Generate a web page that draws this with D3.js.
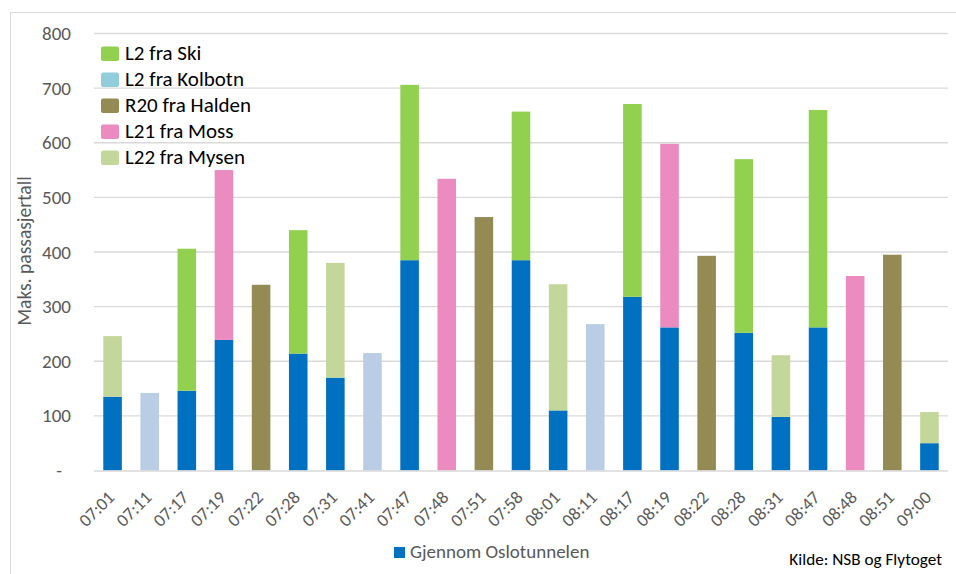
<!DOCTYPE html>
<html>
<head>
<meta charset="utf-8">
<script src="https://cdnjs.cloudflare.com/ajax/libs/d3/7.8.5/d3.min.js"></script>
<style>
  html, body { margin: 0; padding: 0; background: #fff; }
  svg { display: block; font-family: Carlito, Calibri, "Open Sans", sans-serif; }
</style>
</head>
<body>
<svg id="chart" width="956" height="574"></svg>
<script>
const categories = ["07:01","07:11","07:17","07:19","07:22","07:28","07:31","07:41","07:47","07:48","07:51","07:58","08:01","08:11","08:17","08:19","08:22","08:28","08:31","08:47","08:48","08:51","09:00"];
// Series values (passengers)
const oslotunnelen = [135, 0, 146, 239, 0, 214, 170, 0, 385, 0, 0, 385, 110, 0, 318, 262, 0, 252, 98, 262, 0, 0, 50];
const l2Ski        = [0, 0, 260, 0, 0, 226, 0, 0, 321, 0, 0, 272, 0, 0, 353, 0, 0, 318, 0, 398, 0, 0, 0];
const l2Kolbotn    = [0, 142, 0, 0, 0, 0, 0, 215, 0, 0, 0, 0, 0, 268, 0, 0, 0, 0, 0, 0, 0, 0, 0];
const r20Halden    = [0, 0, 0, 0, 340, 0, 0, 0, 0, 0, 464, 0, 0, 0, 0, 0, 393, 0, 0, 0, 0, 395, 0];
const l21Moss      = [0, 0, 0, 311, 0, 0, 0, 0, 0, 534, 0, 0, 0, 0, 0, 336, 0, 0, 0, 0, 356, 0, 0];
const l22Mysen     = [111, 0, 0, 0, 0, 0, 210, 0, 0, 0, 0, 0, 231, 0, 0, 0, 0, 0, 113, 0, 0, 0, 57];
const yTicks = [0, 100, 200, 300, 400, 500, 600, 700, 800];
const seriesNames = ["Gjennom Oslotunnelen", "L2 fra Ski", "L2 fra Kolbotn", "R20 fra Halden", "L21 fra Moss", "L22 fra Mysen"];
const topLegend = ["L2 fra Ski", "L2 fra Kolbotn", "R20 fra Halden", "L21 fra Moss", "L22 fra Mysen"];

const barColors = {
  "Gjennom Oslotunnelen": "#0070C0",
  "L2 fra Ski": "#92D050",
  "L2 fra Kolbotn": "#B9CDE5",
  "R20 fra Halden": "#948A54",
  "L21 fra Moss": "#EB8BC0",
  "L22 fra Mysen": "#C4D79B"
};
const legendColors = Object.assign({}, barColors, {"L2 fra Kolbotn": "#92CDDC"});

const seriesArrays = [oslotunnelen, l2Ski, l2Kolbotn, r20Halden, l21Moss, l22Mysen];
const rows = categories.map((c, i) => {
  const r = {cat: c};
  seriesNames.forEach((s, k) => r[s] = seriesArrays[k][i]);
  return r;
});

const svg = d3.select("#chart");
const FONT = "Carlito, Calibri, 'Open Sans', sans-serif";
const x0 = 94, x1 = 948, yTop = 33.5, yBot = 470.5;

// outer border
svg.append("rect").attr("x", 10.5).attr("y", 12.5).attr("width", 960).attr("height", 570)
  .attr("fill", "none").attr("stroke", "#D9D9D9").attr("stroke-width", 1);

const x = d3.scaleBand().domain(categories).range([x0, x1]).paddingInner(0.5).paddingOuter(0.25);
const y = d3.scaleLinear().domain([0, 800]).range([yBot, yTop]);

// gridlines
svg.append("g").selectAll("line").data(yTicks.filter(d => d > 0)).join("line")
  .attr("x1", x0).attr("x2", x1)
  .attr("y1", d => y(d)).attr("y2", d => y(d))
  .attr("stroke", "#D9D9D9").attr("stroke-width", 1.3);

// y-axis labels
const yAxis = d3.axisLeft(y).tickValues(yTicks).tickSize(0).tickPadding(0)
  .tickFormat(d => d === 0 ? "-" : d);
const gy = svg.append("g").attr("transform", `translate(71,0)`).call(yAxis);
gy.select(".domain").remove();
gy.selectAll("text").attr("fill", "#595959").style("font-size", "19px")
  .style("font-family", FONT)
  .attr("dx", d => d === 0 ? "-9" : "0");

// stacked bars
const stack = d3.stack().keys(seriesNames);
const layers = stack(rows);
svg.append("g").selectAll("g").data(layers).join("g")
  .attr("fill", d => barColors[d.key])
  .selectAll("rect").data(d => d.filter(p => p[1] - p[0] > 0)).join("rect")
  .attr("x", d => x(d.data.cat))
  .attr("width", x.bandwidth())
  .attr("y", d => y(d[1]))
  .attr("height", d => y(d[0]) - y(d[1]));

// x axis line
svg.append("line").attr("x1", x0).attr("x2", x1).attr("y1", yBot + 0.5).attr("y2", yBot + 0.5)
  .attr("stroke", "#D9D9D9").attr("stroke-width", 1.3);

// x labels
const xAxis = d3.axisBottom(x).tickSize(0).tickPadding(0);
const gx = svg.append("g").attr("transform", `translate(0,${yBot})`).call(xAxis);
gx.select(".domain").remove();
gx.selectAll("text")
  .attr("fill", "#595959").style("font-size", "18px")
  .style("font-family", FONT)
  .attr("text-anchor", "end")
  .attr("dy", null).attr("y", 0)
  .attr("transform", "translate(3,28) rotate(-45)");

// y axis title
svg.append("text").attr("transform", "translate(30.5,251) rotate(-90)")
  .attr("text-anchor", "middle").attr("fill", "#595959").style("font-size", "19.5px")
  .text("Maks. passasjertall");

// top legend
const lg = svg.append("g").selectAll("g").data(topLegend).join("g")
  .attr("transform", (d, i) => `translate(101,${46.5 + i * 26})`);
lg.append("rect").attr("width", 18).attr("height", 14.5).attr("rx", 2)
  .attr("fill", d => legendColors[d]);
lg.append("text").attr("x", 24).attr("y", 13.5).attr("fill", "#000").style("font-size", "21px").text(d => d);

// bottom legend
svg.append("rect").attr("x", 394).attr("y", 547).attr("width", 11).attr("height", 11).attr("fill", barColors["Gjennom Oslotunnelen"]);
svg.append("text").attr("x", 410).attr("y", 558).attr("fill", "#595959").style("font-size", "19px").text("Gjennom Oslotunnelen");

// source
svg.append("text").attr("x", 942).attr("y", 565).attr("text-anchor", "end").attr("fill", "#000").style("font-size", "17.2px").text("Kilde: NSB og Flytoget");
</script>
</body>
</html>
